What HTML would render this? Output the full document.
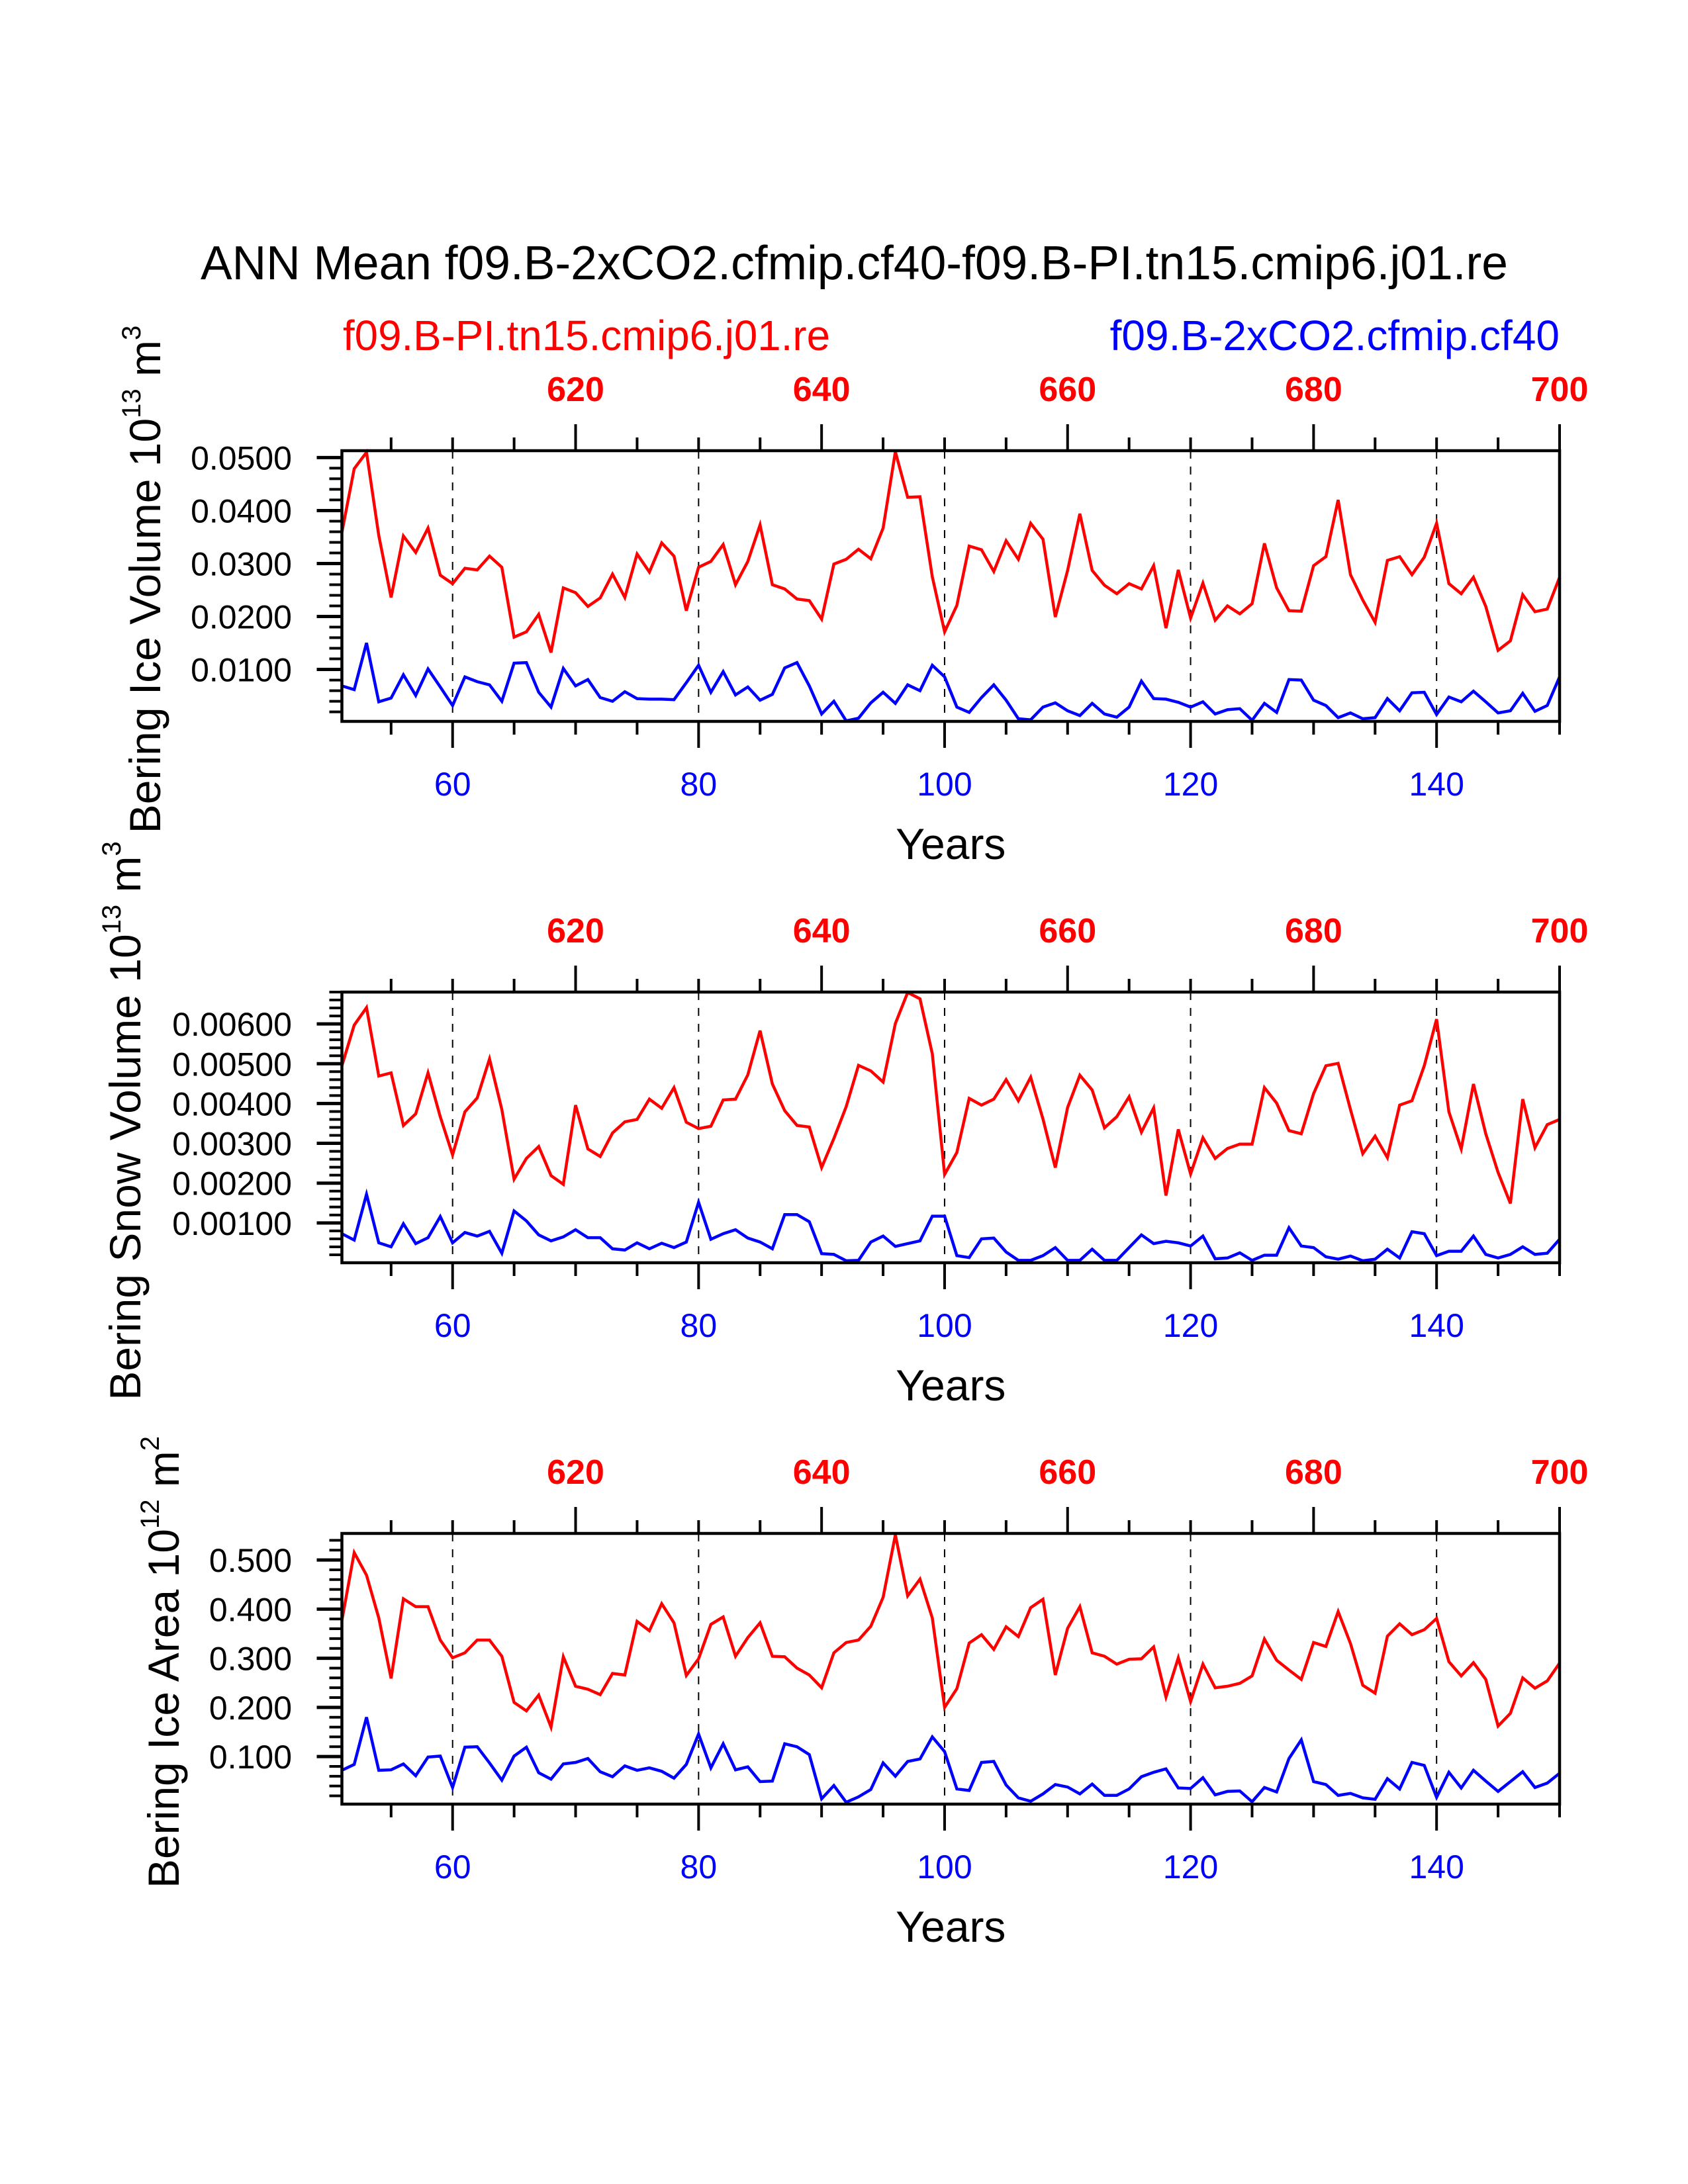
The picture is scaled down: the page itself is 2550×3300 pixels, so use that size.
<!DOCTYPE html>
<html><head><meta charset="utf-8"><style>
html,body{margin:0;padding:0;background:#fff;}
svg{display:block;font-family:"Liberation Sans",Arial,sans-serif;}
</style></head><body>
<svg id="chart" width="2550" height="3300" viewBox="0 0 2550 3300">
<text x="303" y="422" font-size="72" textLength="1975" lengthAdjust="spacingAndGlyphs">ANN Mean f09.B-2xCO2.cfmip.cf40-f09.B-PI.tn15.cmip6.j01.re</text>
<text x="518" y="529" font-size="64" fill="#ff0000" textLength="736" lengthAdjust="spacingAndGlyphs">f09.B-PI.tn15.cmip6.j01.re</text>
<text x="2356" y="529" font-size="64" fill="#0000ff" text-anchor="end">f09.B-2xCO2.cfmip.cf40</text>
</svg>
<script>
// ---- data ----
const years = [];
for (let y = 51; y <= 150; y++) years.push(y);
const topTickLabels = ["620","640","660","680","700"];
const bottomTickLabels = ["60","80","100","120","140"];

const iceVolRed = [0.0359,0.0479,0.0510,0.0353,0.0236,0.0352,0.0321,0.0367,0.0278,0.0262,
0.0291,0.0288,0.0314,0.0293,0.0161,0.0171,0.0204,0.0132,0.0254,0.0245,
0.0219,0.0235,0.0280,0.0236,0.0318,0.0284,0.0339,0.0314,0.0211,0.0293,
0.0304,0.0336,0.0260,0.0304,0.0373,0.0260,0.0252,0.0233,0.0230,0.0195,
0.0299,0.0308,0.0327,0.0309,0.0367,0.0511,0.0425,0.0426,0.0275,0.0171,
0.0221,0.0333,0.0326,0.0285,0.0343,0.0308,0.0376,0.0346,0.0199,0.0287,
0.0394,0.0287,0.0259,0.0243,0.0262,0.0252,0.0296,0.0178,0.0288,0.0197,
0.0263,0.0193,0.0220,0.0205,0.0224,0.0338,0.0254,0.0211,0.0210,0.0296,
0.0313,0.0420,0.0279,0.0231,0.0189,0.0306,0.0313,0.0279,0.0312,0.0376,
0.0262,0.0243,0.0274,0.0219,0.0136,0.0154,0.0241,0.0209,0.0214,0.0274];
const iceVolBlue = [0.0069,0.0062,0.0150,0.0039,0.0046,0.0090,0.0051,0.0101,0.0067,0.0032,
0.0086,0.0077,0.0071,0.0040,0.0112,0.0113,0.0057,0.0029,0.0102,0.0069,
0.0081,0.0047,0.0040,0.0058,0.0045,0.0044,0.0044,0.0043,0.0075,0.0108,
0.0057,0.0096,0.0052,0.0067,0.0042,0.0053,0.0103,0.0113,0.0069,0.0016,
0.0040,0.0003,0.0008,0.0037,0.0057,0.0036,0.0071,0.0060,0.0108,0.0086,
0.0029,0.0019,0.0047,0.0071,0.0042,0.0007,0.0005,0.0029,0.0037,0.0022,
0.0013,0.0036,0.0016,0.0010,0.0029,0.0078,0.0045,0.0044,0.0038,0.0029,
0.0039,0.0016,0.0024,0.0026,0.0004,0.0036,0.0019,0.0081,0.0080,0.0042,
0.0032,0.0009,0.0018,0.0007,0.0009,0.0045,0.0022,0.0056,0.0057,0.0015,
0.0048,0.0039,0.0059,0.0039,0.0018,0.0022,0.0055,0.0021,0.0032,0.0086];
const snowVolRed = [0.00495,0.00597,0.00641,0.00469,0.00477,0.00345,0.00374,0.00477,0.00367,0.00271,
0.00379,0.00414,0.00512,0.00385,0.00210,0.00262,0.00292,0.00219,0.00197,0.00396,
0.00286,0.00267,0.00326,0.00354,0.00360,0.00411,0.00388,0.00440,0.00353,0.00337,
0.00343,0.00409,0.00411,0.00472,0.00583,0.00449,0.00382,0.00345,0.00341,0.00239,
0.00312,0.00392,0.00496,0.00482,0.00454,0.00601,0.00679,0.00663,0.00525,0.00222,
0.00277,0.00413,0.00396,0.00411,0.00460,0.00407,0.00466,0.00361,0.00239,0.00390,
0.00471,0.00434,0.00339,0.00367,0.00417,0.00328,0.00389,0.00169,0.00335,0.00223,
0.00314,0.00262,0.00287,0.00298,0.00298,0.00440,0.00401,0.00332,0.00324,0.00425,
0.00495,0.00501,0.00385,0.00274,0.00318,0.00264,0.00396,0.00407,0.00495,0.00612,
0.00379,0.00286,0.00449,0.00324,0.00227,0.00149,0.00411,0.00289,0.00347,0.00360];
const snowVolBlue = [0.00073,0.00057,0.00172,0.00050,0.00040,0.00098,0.00048,0.00063,0.00116,0.00050,
0.00076,0.00067,0.00079,0.00024,0.00130,0.00105,0.00070,0.00055,0.00065,0.00083,
0.00063,0.00063,0.00035,0.00032,0.00050,0.00035,0.00049,0.00038,0.00052,0.00152,
0.00059,0.00073,0.00083,0.00062,0.00052,0.00035,0.00121,0.00121,0.00103,0.00023,
0.00021,0.00005,0.00006,0.00052,0.00067,0.00041,0.00048,0.00055,0.00117,0.00117,
0.00018,0.00013,0.00060,0.00062,0.00027,0.00006,0.00006,0.00018,0.00038,0.00006,
0.00006,0.00034,0.00006,0.00006,0.00038,0.00070,0.00048,0.00054,0.00050,0.00042,
0.00067,0.00010,0.00012,0.00025,0.00006,0.00019,0.00019,0.00088,0.00042,0.00038,
0.00015,0.00009,0.00017,0.00005,0.00009,0.00034,0.00012,0.00078,0.00073,0.00018,
0.00029,0.00029,0.00067,0.00021,0.00012,0.00021,0.00040,0.00021,0.00024,0.00059];
const iceAreaRed = [0.377,0.515,0.469,0.382,0.259,0.421,0.405,0.405,0.337,0.301,
0.311,0.337,0.337,0.304,0.210,0.193,0.225,0.160,0.303,0.243,
0.237,0.226,0.269,0.266,0.375,0.356,0.411,0.372,0.265,0.299,
0.369,0.384,0.304,0.342,0.372,0.304,0.303,0.280,0.266,0.240,
0.311,0.332,0.337,0.365,0.424,0.551,0.427,0.461,0.382,0.200,
0.238,0.331,0.348,0.318,0.364,0.344,0.403,0.420,0.266,0.361,
0.405,0.311,0.304,0.288,0.298,0.299,0.323,0.221,0.301,0.212,
0.288,0.240,0.243,0.249,0.264,0.339,0.296,0.276,0.257,0.332,
0.324,0.395,0.330,0.245,0.229,0.345,0.370,0.348,0.358,0.381,
0.293,0.264,0.291,0.257,0.162,0.188,0.260,0.239,0.254,0.290];
const iceAreaBlue = [0.072,0.084,0.180,0.072,0.073,0.085,0.061,0.099,0.101,0.037,
0.119,0.120,0.087,0.052,0.101,0.119,0.067,0.054,0.085,0.088,
0.096,0.069,0.059,0.081,0.072,0.077,0.070,0.056,0.084,0.146,
0.077,0.126,0.073,0.079,0.049,0.050,0.126,0.120,0.104,0.014,
0.041,0.007,0.018,0.033,0.087,0.060,0.090,0.095,0.140,0.110,
0.034,0.031,0.088,0.090,0.042,0.016,0.009,0.024,0.043,0.038,
0.024,0.044,0.021,0.021,0.034,0.059,0.068,0.075,0.036,0.035,
0.057,0.022,0.029,0.030,0.008,0.037,0.028,0.096,0.134,0.049,
0.043,0.021,0.025,0.016,0.013,0.055,0.034,0.088,0.082,0.017,
0.068,0.036,0.072,0.050,0.029,0.049,0.069,0.037,0.046,0.066];

const iceVolTicks = ["0.0100","0.0200","0.0300","0.0400","0.0500"];
const snowVolTicks = ["0.00100","0.00200","0.00300","0.00400","0.00500","0.00600"];
const iceAreaTicks = ["0.100","0.200","0.300","0.400","0.500"];

// ---- layout ----
const svg = document.getElementById('chart');
const NS = 'http://www.w3.org/2000/svg';
const X0 = 516.5, X1 = 2356, XMIN = 51, XMAX = 150, PH = 409;
function xs(v){ return X0 + (v - XMIN) / (XMAX - XMIN) * (X1 - X0); }
function mk(tag, attrs, parent){
  const e = document.createElementNS(NS, tag);
  for (const k in attrs) e.setAttribute(k, attrs[k]);
  (parent || svg).appendChild(e);
  return e;
}

const panels = [
  {top:681, ymin:0.0002, ymax:0.0513, minor:0.002, ticks:iceVolTicks, red:iceVolRed, blue:iceVolBlue,
   title:["Bering Ice Volume 10","13"," m","3"], tx:242, name:'ice-volume'},
  {top:1499, ymin:0.0, ymax:0.0068, minor:0.0002, ticks:snowVolTicks, red:snowVolRed, blue:snowVolBlue,
   title:["Bering Snow Volume 10","13"," m","3"], tx:212, name:'snow-volume'},
  {top:2317, ymin:0.0032, ymax:0.554, minor:0.02, ticks:iceAreaTicks, red:iceAreaRed, blue:iceAreaBlue,
   title:["Bering Ice Area 10","12"," m","2"], tx:270, name:'ice-area'}
];

panels.forEach(function(p){
  const g = mk('g', {});
  
  
  const bot = p.top + PH;
  function ys(v){ return bot - (v - p.ymin) / (p.ymax - p.ymin) * PH; }

  bottomTickLabels.forEach(function(lbl){
    const x = xs(+lbl);
    const l = mk('line', {x1:x, x2:x, y1:p.top, y2:bot, stroke:'#000', 'stroke-width':2, 'stroke-dasharray':'12,12'}, g);
    
    
  });

  [['red', '#ff0000', p.red], ['blue', '#0000ff', p.blue]].forEach(function(s){
    const pts = s[2].map(function(v, i){ return xs(years[i]).toFixed(1) + ',' + ys(v).toFixed(1); }).join(' ');
    const pl = mk('polyline', {points:pts, fill:'none', stroke:s[1], 'stroke-width':4.5, 'stroke-linejoin':'miter'}, g);
    
    
  });

  const fr = mk('rect', {x:X0, y:p.top, width:X1 - X0, height:PH, fill:'none', stroke:'#000', 'stroke-width':4.5}, g);
  
  

  for (let yr = 55; yr <= 150; yr += 5) {
    const x = xs(yr);
    const bMaj = (yr % 20 === 0 && yr >= 60 && yr <= 140);
    const tMaj = ((yr - 70) % 20 === 0 && yr >= 70);
    mk('line', {x1:x, x2:x, y1:bot, y2:bot + (bMaj ? 40 : 20), stroke:'#000', 'stroke-width':4}, g);
    mk('line', {x1:x, x2:x, y1:p.top, y2:p.top - (tMaj ? 40 : 20), stroke:'#000', 'stroke-width':4}, g);
  }
  bottomTickLabels.forEach(function(lbl){
    const t = mk('text', {x:xs(+lbl), y:bot + 112, 'font-size':50, fill:'#0000ff', 'text-anchor':'middle'}, g);
    t.textContent = lbl;
    
    
  });
  topTickLabels.forEach(function(lbl){
    const yr = +lbl - 550;
    const t = mk('text', {x:xs(yr), y:p.top - 75, 'font-size':52, 'font-weight':'bold', fill:'#ff0000', 'text-anchor':'middle'}, g);
    t.textContent = lbl;
    
    
  });

  const nMinor = Math.floor(p.ymax / p.minor + 1e-6);
  for (let k = 1; k <= nMinor; k++) {
    const v = k * p.minor;
    if (v < p.ymin) continue;
    mk('line', {x1:X0 - 19, x2:X0, y1:ys(v), y2:ys(v), stroke:'#000', 'stroke-width':4}, g);
  }
  p.ticks.forEach(function(lbl){
    const y = ys(+lbl);
    mk('line', {x1:X0 - 38, x2:X0, y1:y, y2:y, stroke:'#000', 'stroke-width':5}, g);
    const t = mk('text', {x:441, y:y + 18, 'font-size':50, 'text-anchor':'end'}, g);
    t.textContent = lbl;
    
    
  });

  const xt = mk('text', {x:(X0 + X1) / 2, y:bot + 208, 'font-size':66, 'text-anchor':'middle'}, g);
  xt.textContent = 'Years';
  
  

  const cy = p.top + PH / 2 - 10;
  const yt = mk('text', {x:0, y:0, 'font-size':66, 'text-anchor':'middle', transform:'translate(' + p.tx + ',' + cy + ') rotate(-90)'}, g);
  
  
  const a = mk('tspan', {}, yt); a.textContent = p.title[0];
  const b = mk('tspan', {dy:-30, 'font-size':40}, yt); b.textContent = p.title[1];
  const c = mk('tspan', {dy:30}, yt); c.textContent = p.title[2];
  const d = mk('tspan', {dy:-30, 'font-size':40}, yt); d.textContent = p.title[3];
});
</script>
</body></html>
